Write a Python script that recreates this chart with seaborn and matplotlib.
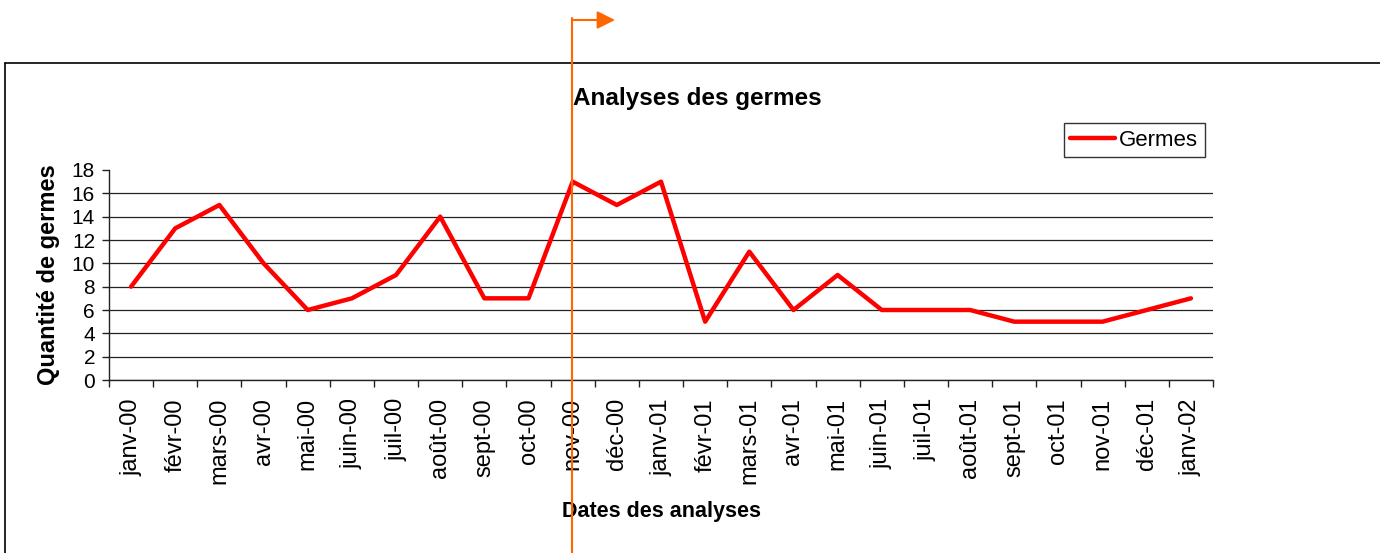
import numpy as np
import pandas as pd
import matplotlib
matplotlib.use("Agg")
import matplotlib.pyplot as plt
import seaborn as sns
from matplotlib.lines import Line2D
from matplotlib.patches import FancyArrowPatch

# données
mois = ["janv-00", "févr-00", "mars-00", "avr-00", "mai-00", "juin-00", "juil-00",
        "août-00", "sept-00", "oct-00", "nov-00", "déc-00", "janv-01", "févr-01",
        "mars-01", "avr-01", "mai-01", "juin-01", "juil-01", "août-01", "sept-01",
        "oct-01", "nov-01", "déc-01", "janv-02"]
germes = [8, 13, 15, 10, 6, 7, 9, 14, 7, 7, 17, 15, 17, 5, 11, 6, 9, 6, 6, 6, 5, 5, 5, 6, 7]
y_ticks = [0, 2, 4, 6, 8, 10, 12, 14, 16, 18]

df = pd.DataFrame({"mois": mois, "germes": germes})

sns.set_style("white")
plt.rcParams["font.family"] = ["Liberation Sans", "DejaVu Sans"]
plt.rcParams["text.color"] = "black"
plt.rcParams["axes.labelcolor"] = "black"
plt.rcParams["xtick.color"] = "black"
plt.rcParams["ytick.color"] = "black"

W, H = 1380, 553
fig = plt.figure(figsize=(W / 100, H / 100), dpi=100)
ax = fig.add_axes([109 / W, 1 - 380 / H, (1213 - 109) / W, (380 - 170) / H])

sns.lineplot(data=df, x="mois", y="germes", sort=False, color="#ff0000",
             linewidth=3.2, label="Germes", ax=ax)

n = len(mois)
ax.set_xlim(-0.5, n - 0.5)
ax.set_ylim(0, 18)
ax.set_yticks(y_ticks)
ax.set_xticks(np.arange(n))
ax.set_xticklabels(mois, rotation=90, va="top", ha="center")
ax.set_xticks(np.arange(n + 1) - 0.5, minor=True)
ax.tick_params(axis="x", which="major", length=0, pad=13, labelsize=17)
ax.tick_params(axis="x", which="minor", length=5, width=1, color="#222222", bottom=True)
ax.tick_params(axis="y", which="major", length=5, width=1, color="#222222", pad=5,
               labelsize=15, left=True)

for s in ["top", "right"]:
    ax.spines[s].set_visible(False)
for s in ["left", "bottom"]:
    ax.spines[s].set_color("#222222")
    ax.spines[s].set_linewidth(1)

ax.yaxis.grid(True, color="#222222", linewidth=0.9)
ax.xaxis.grid(False)
gl = ax.get_ygridlines()
gl[-1].set_visible(False)

ax.set_xlabel("Dates des analyses", fontsize=15.5, fontweight="bold")
ax.xaxis.set_label_coords(0.5, -(512 - 380) / 210)
ax.xaxis.label.set_va("center")
ax.set_ylabel("Quantité de germes", fontsize=17, fontweight="bold")
ax.yaxis.set_label_coords(-(109 - 48) / 1104, 0.5)
ax.yaxis.label.set_va("center")

fig.text(697 / W, 1 - 98 / H, "Analyses des germes", fontsize=17.5, fontweight="bold",
         ha="center", va="center")

leg = ax.legend(loc="upper right", bbox_to_anchor=(1205 / W, 1 - 123 / H),
                bbox_transform=fig.transFigure, fontsize=16, frameon=True,
                fancybox=False, edgecolor="black", handlelength=2.0,
                handletextpad=0.2, borderpad=0.3, borderaxespad=0)
leg.get_frame().set_linewidth(1)

# cadre du graphique
fig.add_artist(Line2D([5 / W, 5 / W], [0, 1 - 63 / H], color="black", linewidth=1.2,
                      transform=fig.transFigure))
fig.add_artist(Line2D([5 / W, 1], [1 - 63 / H, 1 - 63 / H], color="black", linewidth=1.2,
                      transform=fig.transFigure))

# flèche orange
orange = "#ff6600"
fig.add_artist(Line2D([572 / W, 572 / W], [0, 1 - 18 / H], color=orange, linewidth=1.5,
                      transform=fig.transFigure))
fig.add_artist(FancyArrowPatch((572 / W, 1 - 20 / H), (615 / W, 1 - 20 / H),
                               transform=fig.transFigure,
                               arrowstyle="-|>,head_length=0.4,head_width=0.2",
                               mutation_scale=27, color=orange, linewidth=1.5,
                               shrinkA=0, shrinkB=0))

fig.savefig("out.png", dpi=100)
